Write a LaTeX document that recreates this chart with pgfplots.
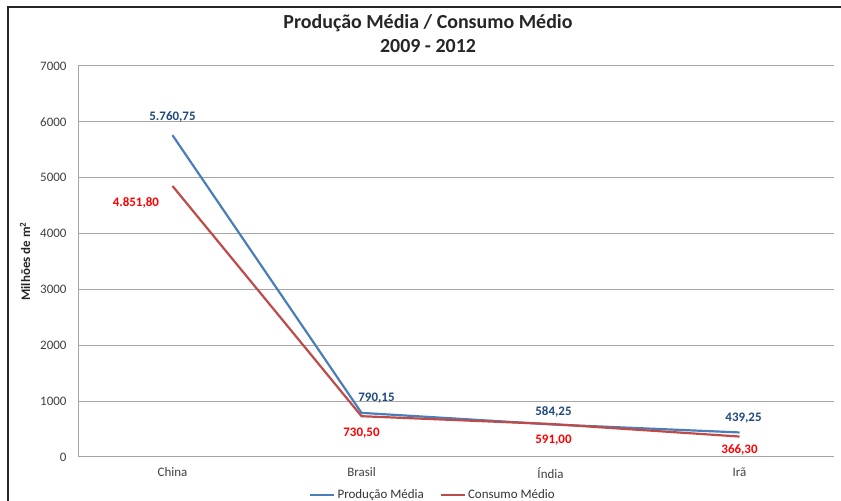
\documentclass[border=0pt]{standalone}
\usepackage{pgfplots}
\pgfplotsset{compat=1.18}
\usepackage{fontspec}
\setmainfont{Carlito}
\definecolor{prodline}{HTML}{4A7EBB}
\definecolor{consline}{HTML}{BE4B48}
\definecolor{prodlab}{HTML}{1F497D}
\definecolor{conslab}{HTML}{FF0000}
\definecolor{gridc}{HTML}{A6A6A6}
\begin{document}
\begin{tikzpicture}[x=1bp,y=1bp]
\useasboundingbox (0,0) rectangle (841,501);
\begin{scope}
\clip (0,0) rectangle (841,501);
\draw[line width=1.5bp, black!85] (8,-20) -- (8,494) -- (860,494);
\end{scope}
\node[font=\fontsize{20}{24}\selectfont\bfseries, text=black!85] at (428,478) {Produção Média / Consumo Médio};
\node[font=\fontsize{20}{24}\selectfont\bfseries, text=black!85] at (428,455) {2009 - 2012};
\begin{axis}[
  at={(78bp,44bp)}, anchor=south west,
  scale only axis, width=756bp, height=391bp,
  xmin=-0.5, xmax=3.5, ymin=0, ymax=7000,
  xtick={0,1,2,3}, xticklabels={China,Brasil,Índia,Irã},
  ytick={0,1000,...,7000},
  axis x line*=bottom, axis y line*=left,
  axis line style={gridc, line width=1bp, -},
  major tick length=0pt,
  ymajorgrids, grid style={gridc, line width=1bp},
  tick label style={font=\fontsize{13}{15}\selectfont, text=black!75},
  yticklabel style={xshift=-8bp},
  xticklabel style={yshift=-7bp},
  /pgf/number format/assume math mode=true,
  /pgf/number format/set thousands separator={},
  ylabel={\textbf{Milhões de m\textsuperscript{2}}},
  ylabel style={font=\fontsize{13}{15}\selectfont, text=black!85, at={(-53bp,0.5)}, anchor=center},
  legend style={at={(0.4696,-0.0972)}, anchor=center, draw=none, fill=none,
    legend columns=2, font=\fontsize{13}{15}\selectfont, text=black!80,
    /tikz/every even column/.append style={column sep=14bp},
    inner sep=0pt},
  legend image code/.code={\draw[#1, line width=2.2bp] (0bp,0bp) -- (24bp,0bp);},
  clip=false,
]
\addplot[prodline, line width=2.2bp, mark=none] coordinates {(0,5760.75) (1,790.15) (2,584.25) (3,439.25)};
\addlegendentry{Produção Média}
\addplot[consline, line width=2.2bp, mark=none] coordinates {(0,4851.80) (1,730.50) (2,591.00) (3,366.30)};
\addlegendentry{Consumo Médio}
% data labels
\pgfplotsset{every node near coord/.append style={font=\fontsize{13}{15}\selectfont\bfseries}}
\addplot[forget plot, draw=none, mark=none, point meta=explicit symbolic,
  nodes near coords, nodes near coords style={anchor=south, yshift=9bp, text=prodlab}]
  coordinates {(0,5760.75) [5.760,75]};
\addplot[forget plot, draw=none, mark=none, point meta=explicit symbolic,
  nodes near coords, nodes near coords style={anchor=south, yshift=6bp, xshift=15bp, text=prodlab}]
  coordinates {(1,790.15) [790,15]};
\addplot[forget plot, draw=none, mark=none, point meta=explicit symbolic,
  nodes near coords, nodes near coords style={anchor=south, yshift=4bp, xshift=3bp, text=prodlab}]
  coordinates {(2,584.25) [584,25]};
\addplot[forget plot, draw=none, mark=none, point meta=explicit symbolic,
  nodes near coords, nodes near coords style={anchor=south, yshift=6bp, xshift=4bp, text=prodlab}]
  coordinates {(3,439.25) [439,25]};
\addplot[forget plot, draw=none, mark=none, point meta=explicit symbolic,
  nodes near coords, nodes near coords style={anchor=north, yshift=-8bp, text=conslab}]
  coordinates {(1,730.50) [730,50]};
\addplot[forget plot, draw=none, mark=none, point meta=explicit symbolic,
  nodes near coords, nodes near coords style={anchor=north, yshift=-8bp, xshift=3bp, text=conslab}]
  coordinates {(2,591.00) [591,00]};
\addplot[forget plot, draw=none, mark=none, point meta=explicit symbolic,
  nodes near coords, nodes near coords style={anchor=north, yshift=-5bp, text=conslab}]
  coordinates {(3,366.30) [366,30]};
\addplot[forget plot, draw=none, mark=none, point meta=explicit symbolic,
  nodes near coords, nodes near coords style={anchor=east, xshift=-10bp, yshift=-17bp, text=conslab}]
  coordinates {(0,4851.80) [4.851,80]};
\end{axis}
\end{tikzpicture}
\end{document}
